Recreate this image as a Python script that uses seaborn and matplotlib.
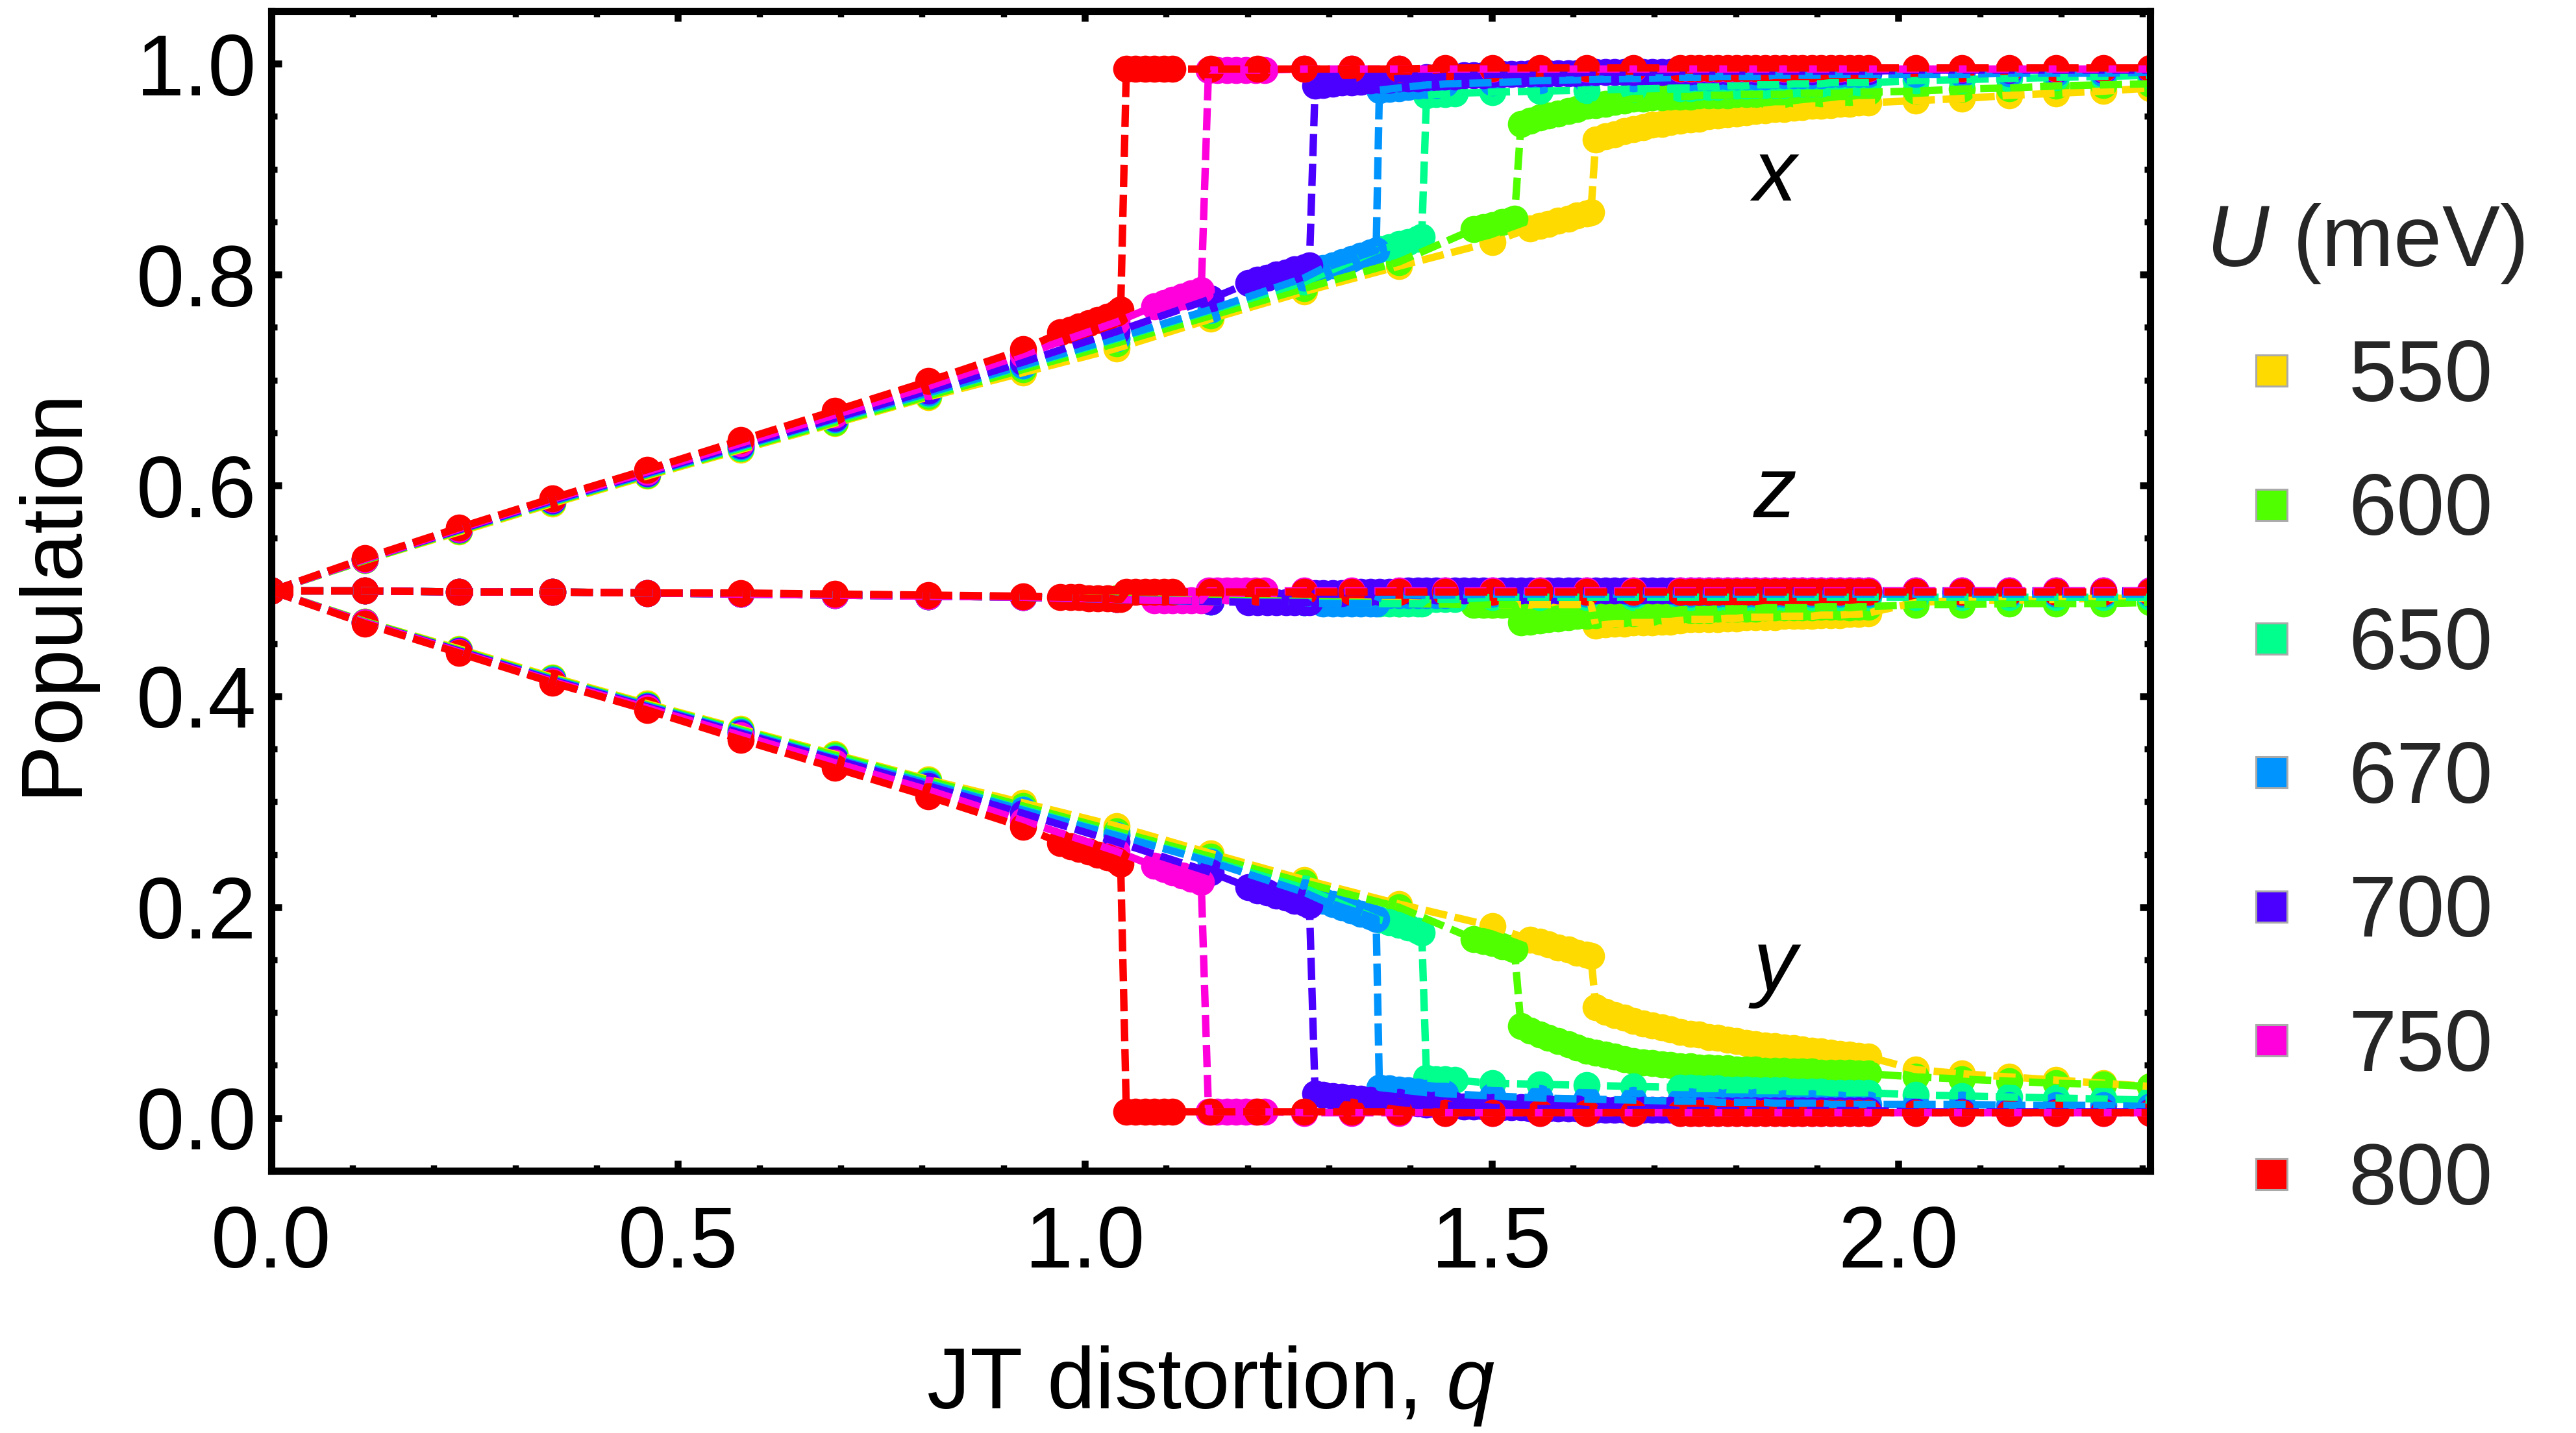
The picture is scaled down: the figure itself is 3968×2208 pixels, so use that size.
import matplotlib
matplotlib.use("Agg")
import matplotlib.pyplot as plt
import seaborn as sns
import pandas as pd
from matplotlib.lines import Line2D
from matplotlib.ticker import MultipleLocator, FormatStrFormatter

sns.set_theme(style="white")
plt.rcParams["font.family"] = ["Liberation Sans", "DejaVu Sans"]
plt.rcParams["mathtext.fontset"] = "custom"
plt.rcParams["mathtext.it"] = "Liberation Sans:italic"
plt.rcParams["mathtext.rm"] = "Liberation Sans"

# ---------------- data ----------------
U_VALUES = [550, 600, 650, 670, 700, 750, 800]
COLORS = ["#FFDA00", "#50FF00", "#00FF8C", "#0094FF", "#4B00FF", "#FF00DC", "#FF0000"]
ORBITAL_LABELS = ["x", "z", "y"]

# shared q samples
Q_COARSE = [0.000, 0.115, 0.231, 0.346, 0.462, 0.577, 0.693, 0.808, 0.924, 1.039, 1.155, 1.270, 1.386, 1.501]
Q_TAIL_DENSE = [1.732, 1.744, 1.755, 1.767, 1.778, 1.790, 1.801, 1.813, 1.824, 1.836,
                1.848, 1.859, 1.871, 1.882, 1.894, 1.905, 1.917, 1.928, 1.940, 1.951,
                1.963]
Q_TAIL = [2.021, 2.078, 2.136, 2.194, 2.252, 2.309]

# ----- U = 800 -----
N_COARSE_800 = 9
Q_MID_800 = [0.970, 0.982, 0.993, 1.005, 1.016, 1.028, 1.039, 1.044,
             1.051, 1.062, 1.074, 1.085, 1.097, 1.108,
             1.155, 1.212, 1.270, 1.328, 1.386, 1.443, 1.501, 1.559, 1.617, 1.674]
X_800 = [0.500, 0.531, 0.560, 0.588, 0.615, 0.643, 0.671, 0.699, 0.729,
         0.745, 0.748, 0.751, 0.754, 0.757, 0.760, 0.764, 0.767,
         0.995, 0.995, 0.995, 0.995, 0.995, 0.995,
         0.995, 0.995, 0.995, 0.995, 0.995, 0.996, 0.996, 0.996, 0.996, 0.996,
         0.996, 0.996, 0.996, 0.996, 0.996, 0.996, 0.996, 0.996, 0.996, 0.996,
         0.996, 0.996, 0.996, 0.996, 0.996, 0.996, 0.996, 0.996, 0.996, 0.996, 0.996,
         0.996, 0.996, 0.996, 0.996, 0.996, 0.996]
Z_800 = [0.500, 0.500, 0.499, 0.499, 0.498, 0.498, 0.497, 0.496, 0.495,
         0.494, 0.494, 0.494, 0.493, 0.493, 0.493, 0.492, 0.492,
         0.499, 0.499, 0.499, 0.499, 0.499, 0.499,
         0.499, 0.499, 0.499, 0.499, 0.499, 0.499, 0.499, 0.499, 0.499, 0.499,
         0.499, 0.499, 0.499, 0.499, 0.499, 0.499, 0.499, 0.499, 0.499, 0.499,
         0.499, 0.499, 0.499, 0.499, 0.499, 0.499, 0.499, 0.499, 0.499, 0.499, 0.499,
         0.499, 0.499, 0.499, 0.499, 0.499, 0.499]
Y_800 = [0.500, 0.469, 0.441, 0.413, 0.387, 0.359, 0.332, 0.305, 0.276,
         0.261, 0.258, 0.255, 0.253, 0.250, 0.247, 0.244, 0.241,
         0.006, 0.006, 0.006, 0.006, 0.006, 0.006,
         0.006, 0.006, 0.006, 0.006, 0.006, 0.005, 0.005, 0.005, 0.005, 0.005,
         0.005, 0.005, 0.005, 0.005, 0.005, 0.005, 0.005, 0.005, 0.005, 0.005,
         0.005, 0.005, 0.005, 0.005, 0.005, 0.005, 0.005, 0.005, 0.005, 0.005, 0.005,
         0.005, 0.005, 0.005, 0.005, 0.005, 0.005]

# ----- U = 750 -----
N_COARSE_750 = 10
Q_MID_750 = [1.085, 1.097, 1.108, 1.120, 1.131, 1.143,
             1.152, 1.163, 1.175, 1.186, 1.198, 1.210, 1.221,
             1.270, 1.328, 1.386, 1.443, 1.501, 1.559, 1.617, 1.674]
X_750 = [0.500, 0.530, 0.559, 0.587, 0.613, 0.640, 0.667, 0.694, 0.724, 0.755,
         0.770, 0.773, 0.776, 0.779, 0.782, 0.785,
         0.994, 0.994, 0.994, 0.994, 0.994, 0.994, 0.994,
         0.995, 0.995, 0.995, 0.995, 0.995, 0.995, 0.995, 0.995,
         0.995, 0.995, 0.995, 0.995, 0.995, 0.995, 0.995, 0.995, 0.995, 0.995,
         0.995, 0.995, 0.995, 0.995, 0.995, 0.995, 0.995, 0.995, 0.995, 0.995, 0.995,
         0.995, 0.995, 0.995, 0.995, 0.995, 0.995]
Z_750 = [0.500, 0.500, 0.499, 0.499, 0.498, 0.497, 0.496, 0.495, 0.494, 0.492,
         0.491, 0.491, 0.491, 0.491, 0.491, 0.491,
         0.500, 0.500, 0.500, 0.500, 0.500, 0.500, 0.500,
         0.500, 0.500, 0.500, 0.500, 0.500, 0.500, 0.500, 0.500,
         0.500, 0.500, 0.500, 0.500, 0.500, 0.500, 0.500, 0.500, 0.500, 0.500,
         0.500, 0.500, 0.500, 0.500, 0.500, 0.500, 0.500, 0.500, 0.500, 0.500, 0.500,
         0.500, 0.500, 0.500, 0.500, 0.500, 0.500]
Y_750 = [0.500, 0.470, 0.442, 0.414, 0.389, 0.363, 0.337, 0.311, 0.282, 0.253,
         0.239, 0.236, 0.233, 0.230, 0.227, 0.224,
         0.006, 0.006, 0.006, 0.006, 0.006, 0.006, 0.006,
         0.005, 0.005, 0.005, 0.005, 0.005, 0.005, 0.005, 0.005,
         0.005, 0.005, 0.005, 0.005, 0.005, 0.005, 0.005, 0.005, 0.005, 0.005,
         0.005, 0.005, 0.005, 0.005, 0.005, 0.005, 0.005, 0.005, 0.005, 0.005, 0.005,
         0.005, 0.005, 0.005, 0.005, 0.005, 0.005]

# ----- U = 700 -----
N_COARSE_700 = 11
Q_MID_700 = [1.201, 1.212, 1.224, 1.235, 1.247, 1.258, 1.270, 1.276,
             1.283, 1.293, 1.305, 1.316, 1.328, 1.339, 1.351, 1.362, 1.374, 1.386,
             1.397, 1.409, 1.420, 1.432, 1.443, 1.455, 1.466, 1.478, 1.490, 1.501,
             1.513, 1.524, 1.536, 1.547, 1.559, 1.570, 1.582, 1.594, 1.605, 1.617,
             1.628, 1.640, 1.651, 1.663, 1.674, 1.686, 1.697, 1.709, 1.720]
X_700 = [0.500, 0.530, 0.558, 0.586, 0.612, 0.638, 0.664, 0.690, 0.717, 0.746, 0.777,
         0.792, 0.795, 0.797, 0.800, 0.802, 0.805, 0.807, 0.809,
         0.979, 0.980, 0.981, 0.982, 0.982, 0.983, 0.984, 0.985, 0.985, 0.986,
         0.986, 0.986, 0.987, 0.987, 0.988, 0.988, 0.989, 0.989, 0.989, 0.990,
         0.990, 0.990, 0.990, 0.991, 0.991, 0.991, 0.991, 0.991, 0.991, 0.992,
         0.992, 0.992, 0.992, 0.992, 0.992, 0.992, 0.992, 0.992, 0.992,
         0.993, 0.993, 0.993, 0.993, 0.993, 0.993, 0.993, 0.993, 0.993, 0.993,
         0.993, 0.993, 0.993, 0.993, 0.993, 0.993, 0.993, 0.993, 0.993, 0.993, 0.993,
         0.994, 0.994, 0.994, 0.994, 0.994, 0.994]
Z_700 = [0.500, 0.500, 0.499, 0.499, 0.498, 0.497, 0.496, 0.495, 0.494, 0.492, 0.490,
         0.489, 0.489, 0.489, 0.489, 0.489, 0.489, 0.489, 0.489,
         0.498, 0.498, 0.498, 0.498, 0.499, 0.499, 0.499, 0.499, 0.499, 0.499,
         0.500, 0.500, 0.500, 0.500, 0.500, 0.500, 0.500, 0.500, 0.500, 0.500,
         0.500, 0.500, 0.500, 0.500, 0.500, 0.500, 0.500, 0.500, 0.500, 0.500,
         0.500, 0.500, 0.500, 0.500, 0.500, 0.500, 0.500, 0.500, 0.500,
         0.500, 0.500, 0.500, 0.500, 0.500, 0.500, 0.500, 0.500, 0.500, 0.500,
         0.500, 0.500, 0.500, 0.500, 0.500, 0.500, 0.500, 0.500, 0.500, 0.500, 0.500,
         0.500, 0.500, 0.500, 0.500, 0.500, 0.500]
Y_700 = [0.500, 0.470, 0.443, 0.415, 0.390, 0.365, 0.340, 0.315, 0.289, 0.262, 0.233,
         0.219, 0.216, 0.214, 0.211, 0.209, 0.206, 0.204, 0.202,
         0.023, 0.022, 0.021, 0.020, 0.019, 0.018, 0.017, 0.016, 0.016, 0.015,
         0.014, 0.014, 0.013, 0.013, 0.012, 0.012, 0.011, 0.011, 0.011, 0.010,
         0.010, 0.010, 0.010, 0.009, 0.009, 0.009, 0.009, 0.009, 0.009, 0.008,
         0.008, 0.008, 0.008, 0.008, 0.008, 0.008, 0.008, 0.008, 0.008,
         0.007, 0.007, 0.007, 0.007, 0.007, 0.007, 0.007, 0.007, 0.007, 0.007,
         0.007, 0.007, 0.007, 0.007, 0.007, 0.007, 0.007, 0.007, 0.007, 0.007, 0.007,
         0.006, 0.006, 0.006, 0.006, 0.006, 0.006]

# ----- U = 670 -----
N_COARSE_670 = 12
Q_MID_670 = [1.293, 1.305, 1.316, 1.328, 1.339, 1.351, 1.358,
             1.362, 1.374, 1.386, 1.397, 1.409, 1.420, 1.432, 1.443,
             1.501, 1.559, 1.617, 1.674]
X_670 = [0.500, 0.530, 0.558, 0.585, 0.611, 0.637, 0.663, 0.688, 0.714, 0.740, 0.767, 0.797,
         0.806, 0.809, 0.812, 0.815, 0.818, 0.821, 0.823,
         0.975, 0.976, 0.977, 0.978, 0.979, 0.980, 0.980, 0.981,
         0.982, 0.984, 0.985, 0.986,
         0.987, 0.987, 0.987, 0.987, 0.988, 0.988, 0.988, 0.988, 0.988, 0.988,
         0.989, 0.989, 0.989, 0.989, 0.989, 0.989, 0.990, 0.990, 0.990, 0.990, 0.990,
         0.990, 0.990, 0.991, 0.991, 0.991, 0.992]
Z_670 = [0.500, 0.500, 0.499, 0.499, 0.498, 0.497, 0.496, 0.495, 0.494, 0.492, 0.490, 0.489,
         0.488, 0.488, 0.488, 0.488, 0.488, 0.488, 0.488,
         0.496, 0.496, 0.496, 0.496, 0.496, 0.496, 0.496, 0.496,
         0.497, 0.497, 0.497, 0.497,
         0.497, 0.497, 0.497, 0.497, 0.497, 0.497, 0.497, 0.497, 0.497, 0.497,
         0.497, 0.497, 0.497, 0.497, 0.497, 0.497, 0.497, 0.497, 0.497, 0.497, 0.497,
         0.497, 0.497, 0.497, 0.497, 0.497, 0.497]
Y_670 = [0.500, 0.470, 0.443, 0.416, 0.391, 0.366, 0.341, 0.317, 0.292, 0.268, 0.243, 0.214,
         0.206, 0.203, 0.200, 0.197, 0.194, 0.191, 0.189,
         0.029, 0.028, 0.027, 0.026, 0.025, 0.024, 0.024, 0.023,
         0.021, 0.019, 0.018, 0.017,
         0.016, 0.016, 0.016, 0.016, 0.015, 0.015, 0.015, 0.015, 0.015, 0.015,
         0.014, 0.014, 0.014, 0.014, 0.014, 0.014, 0.013, 0.013, 0.013, 0.013, 0.013,
         0.013, 0.013, 0.012, 0.012, 0.012, 0.011]

# ----- U = 650 -----
N_COARSE_650 = 12
Q_MID_650 = [1.362, 1.374, 1.386, 1.397, 1.409, 1.414,
             1.420, 1.432, 1.443, 1.455,
             1.501, 1.559, 1.617, 1.674]
X_650 = [0.500, 0.530, 0.558, 0.585, 0.611, 0.636, 0.662, 0.687, 0.713, 0.739, 0.766, 0.793,
         0.824, 0.826, 0.829, 0.831, 0.834, 0.836,
         0.970, 0.971, 0.971, 0.972,
         0.973, 0.974, 0.975, 0.976,
         0.977, 0.977, 0.978, 0.978, 0.978, 0.979, 0.979, 0.979, 0.980, 0.980,
         0.980, 0.980, 0.981, 0.981, 0.981, 0.981, 0.982, 0.982, 0.982, 0.982, 0.982,
         0.984, 0.985, 0.986, 0.987, 0.988, 0.989]
Z_650 = [0.500, 0.500, 0.499, 0.499, 0.498, 0.497, 0.496, 0.495, 0.494, 0.492, 0.490, 0.489,
         0.488, 0.488, 0.488, 0.488, 0.488, 0.488,
         0.492, 0.492, 0.492, 0.492,
         0.494, 0.494, 0.494, 0.494,
         0.494, 0.494, 0.494, 0.494, 0.494, 0.494, 0.494, 0.494, 0.494, 0.494,
         0.494, 0.494, 0.494, 0.494, 0.494, 0.494, 0.494, 0.494, 0.494, 0.494, 0.494,
         0.494, 0.494, 0.494, 0.494, 0.494, 0.494]
Y_650 = [0.500, 0.470, 0.443, 0.416, 0.391, 0.367, 0.342, 0.318, 0.293, 0.269, 0.244, 0.218,
         0.188, 0.186, 0.183, 0.181, 0.178, 0.176,
         0.038, 0.037, 0.037, 0.036,
         0.033, 0.032, 0.031, 0.030,
         0.029, 0.029, 0.028, 0.028, 0.028, 0.027, 0.027, 0.027, 0.026, 0.026,
         0.026, 0.026, 0.025, 0.025, 0.025, 0.025, 0.024, 0.024, 0.024, 0.024, 0.024,
         0.022, 0.021, 0.020, 0.019, 0.018, 0.017]

# ----- U = 600 -----
N_COARSE_600 = 13
Q_MID_600 = [1.478, 1.490, 1.501, 1.513, 1.524, 1.528,
             1.536, 1.547, 1.559, 1.570, 1.582, 1.594, 1.605, 1.617, 1.628, 1.640,
             1.651, 1.663, 1.674, 1.686, 1.697, 1.709, 1.720]
X_600 = [0.500, 0.529, 0.557, 0.584, 0.610, 0.635, 0.660, 0.685, 0.710, 0.735, 0.761, 0.787, 0.812,
         0.843, 0.845, 0.847, 0.850, 0.852, 0.853,
         0.943, 0.946, 0.949, 0.951, 0.953, 0.955, 0.957, 0.960, 0.961, 0.962,
         0.964, 0.965, 0.967, 0.967, 0.968, 0.968, 0.969,
         0.969, 0.969, 0.970, 0.970, 0.970, 0.970, 0.971, 0.971, 0.971, 0.971,
         0.971, 0.971, 0.972, 0.972, 0.972, 0.972, 0.972, 0.972, 0.973, 0.973, 0.973,
         0.974, 0.976, 0.977, 0.979, 0.980, 0.981]
Z_600 = [0.500, 0.500, 0.499, 0.499, 0.498, 0.497, 0.496, 0.495, 0.494, 0.493, 0.491, 0.490, 0.488,
         0.487, 0.487, 0.487, 0.487, 0.487, 0.487,
         0.470, 0.471, 0.472, 0.473, 0.474, 0.475, 0.476, 0.476, 0.477, 0.478,
         0.478, 0.479, 0.479, 0.480, 0.480, 0.481, 0.481,
         0.482, 0.482, 0.482, 0.482, 0.483, 0.483, 0.483, 0.483, 0.483, 0.484,
         0.484, 0.484, 0.484, 0.484, 0.484, 0.485, 0.485, 0.485, 0.484, 0.485, 0.485,
         0.487, 0.487, 0.488, 0.488, 0.488, 0.489]
Y_600 = [0.500, 0.471, 0.444, 0.417, 0.392, 0.368, 0.344, 0.320, 0.296, 0.272, 0.248, 0.223, 0.200,
         0.170, 0.168, 0.166, 0.163, 0.161, 0.160,
         0.087, 0.083, 0.079, 0.076, 0.073, 0.070, 0.067, 0.064, 0.062, 0.060,
         0.058, 0.056, 0.054, 0.053, 0.052, 0.051, 0.050,
         0.049, 0.049, 0.048, 0.048, 0.047, 0.047, 0.046, 0.046, 0.046, 0.045,
         0.045, 0.045, 0.044, 0.044, 0.044, 0.043, 0.043, 0.043, 0.043, 0.042, 0.042,
         0.039, 0.037, 0.035, 0.033, 0.032, 0.030]

# ----- U = 550 -----
N_COARSE_550 = 14
Q_MID_550 = [1.547, 1.559, 1.570, 1.582, 1.594, 1.605, 1.617, 1.622,
             1.628, 1.640, 1.651, 1.663, 1.674, 1.686, 1.697, 1.709, 1.720]
X_550 = [0.500, 0.529, 0.556, 0.583, 0.609, 0.634, 0.659, 0.684, 0.707, 0.730, 0.758, 0.784, 0.808, 0.831,
         0.844, 0.846, 0.848, 0.851, 0.853, 0.856, 0.858, 0.859,
         0.928, 0.931, 0.933, 0.936, 0.938, 0.940, 0.942, 0.943, 0.945,
         0.946, 0.947, 0.948, 0.950, 0.951, 0.952, 0.953, 0.954, 0.955, 0.956,
         0.957, 0.957, 0.958, 0.959, 0.960, 0.960, 0.961, 0.962, 0.962, 0.963, 0.963,
         0.965, 0.967, 0.970, 0.972, 0.974, 0.977]
Z_550 = [0.500, 0.500, 0.499, 0.499, 0.498, 0.497, 0.496, 0.495, 0.494, 0.493, 0.491, 0.490, 0.489, 0.487,
         0.487, 0.487, 0.487, 0.487, 0.487, 0.487, 0.487, 0.487,
         0.467, 0.468, 0.469, 0.469, 0.470, 0.470, 0.470, 0.471, 0.471,
         0.472, 0.473, 0.473, 0.473, 0.473, 0.474, 0.474, 0.475, 0.475, 0.475,
         0.475, 0.476, 0.476, 0.476, 0.476, 0.477, 0.477, 0.477, 0.478, 0.478, 0.479,
         0.489, 0.491, 0.491, 0.492, 0.493, 0.493]
Y_550 = [0.500, 0.471, 0.445, 0.418, 0.393, 0.369, 0.345, 0.321, 0.299, 0.277, 0.251, 0.226, 0.203, 0.182,
         0.169, 0.167, 0.165, 0.162, 0.160, 0.157, 0.155, 0.154,
         0.105, 0.101, 0.098, 0.095, 0.092, 0.090, 0.088, 0.086, 0.084,
         0.082, 0.080, 0.079, 0.077, 0.076, 0.074, 0.073, 0.071, 0.070, 0.069,
         0.068, 0.067, 0.066, 0.065, 0.064, 0.063, 0.062, 0.061, 0.060, 0.059, 0.058,
         0.046, 0.042, 0.039, 0.036, 0.033, 0.030]

SERIES = {
    550: (N_COARSE_550, Q_MID_550, X_550, Z_550, Y_550),
    600: (N_COARSE_600, Q_MID_600, X_600, Z_600, Y_600),
    650: (N_COARSE_650, Q_MID_650, X_650, Z_650, Y_650),
    670: (N_COARSE_670, Q_MID_670, X_670, Z_670, Y_670),
    700: (N_COARSE_700, Q_MID_700, X_700, Z_700, Y_700),
    750: (N_COARSE_750, Q_MID_750, X_750, Z_750, Y_750),
    800: (N_COARSE_800, Q_MID_800, X_800, Z_800, Y_800),
}

rows = []
for U in U_VALUES:
    n, qmid, xs, zs, ys = SERIES[U]
    q = Q_COARSE[:n] + qmid + Q_TAIL_DENSE + Q_TAIL
    for orb, vals in zip(["x", "z", "y"], [xs, zs, ys]):
        m = min(len(q), len(vals))
        for i in range(m):
            rows.append((U, orb, q[i], vals[i], i))
df = pd.DataFrame(rows, columns=["U", "orbital", "q", "pop", "idx"])

# ---------------- figure ----------------
W, H, DPI = 3968, 2208, 200
fig = plt.figure(figsize=(W / DPI, H / DPI), dpi=DPI)
ax = fig.add_axes([0.1053, 0.183, 0.7294, 0.8093])
ax.set_facecolor("white")

# markers first (all series), then dashed lines on top
for U, c in zip(U_VALUES, COLORS):
    for orb in ["x", "z", "y"]:
        sub = df[(df.U == U) & (df.orbital == orb)]
        sns.scatterplot(data=sub, x="q", y="pop", color=c, s=225, linewidth=0,
                        ax=ax, zorder=2, legend=False)
for U, c in zip(U_VALUES, COLORS):
    for orb in ["x", "z", "y"]:
        sub = df[(df.U == U) & (df.orbital == orb)].sort_values("idx")
        sns.lineplot(data=sub, x="q", y="pop", color=c, linewidth=4.1,
                     linestyle=(0, (3.0, 1.05)), estimator=None, sort=False,
                     ax=ax, zorder=3, legend=False)

ax.set_xlim(0, 2.3094)
ax.set_ylim(-0.05, 1.05)
ax.xaxis.set_major_locator(MultipleLocator(0.5))
ax.xaxis.set_minor_locator(MultipleLocator(0.1))
ax.yaxis.set_major_locator(MultipleLocator(0.2))
ax.yaxis.set_minor_locator(MultipleLocator(0.05))
ax.xaxis.set_major_formatter(FormatStrFormatter("%.1f"))
ax.yaxis.set_major_formatter(FormatStrFormatter("%.1f"))
ax.tick_params(which="both", direction="in", top=True, right=True, color="black",
               bottom=True, left=True)
ax.tick_params(which="major", length=5.6, width=3.8, labelsize=48, labelcolor="black")
ax.tick_params(which="minor", length=3.4, width=3.4)
ax.tick_params(axis="x", which="major", pad=18.7)
ax.tick_params(axis="y", which="major", pad=8.3)
for sp in ax.spines.values():
    sp.set_color("black")
    sp.set_linewidth(4.0)
    sp.set_zorder(5)

ax.set_xlabel("JT distortion, $q$", fontsize=48, color="black")
ax.set_ylabel("Population", fontsize=48, color="black")
ax.xaxis.set_label_coords(0.5, -0.1495)
ax.yaxis.set_label_coords(-0.0947, 0.5)

# curve labels
for lab, qv, pv in zip(ORBITAL_LABELS, [1.848, 1.848, 1.848], [0.870, 0.570, 0.121]):
    ax.text(qv, pv, lab, fontsize=48, style="italic", ha="center", va="baseline",
            color="black", zorder=6)

handles = [Line2D([], [], linestyle="none", marker="s", markersize=17,
                  markerfacecolor=c, markeredgecolor="#AAAAAA", markeredgewidth=1.1)
           for c in COLORS]
leg = fig.legend(handles, [str(u) for u in U_VALUES], title="$U$ (meV)",
                 loc="center", bbox_to_anchor=(0.918, 0.503), frameon=False,
                 fontsize=48, title_fontsize=48, handlelength=0.8, handletextpad=0.49,
                 labelspacing=0.61, borderpad=0)

fig.savefig("out.png", dpi=DPI)
